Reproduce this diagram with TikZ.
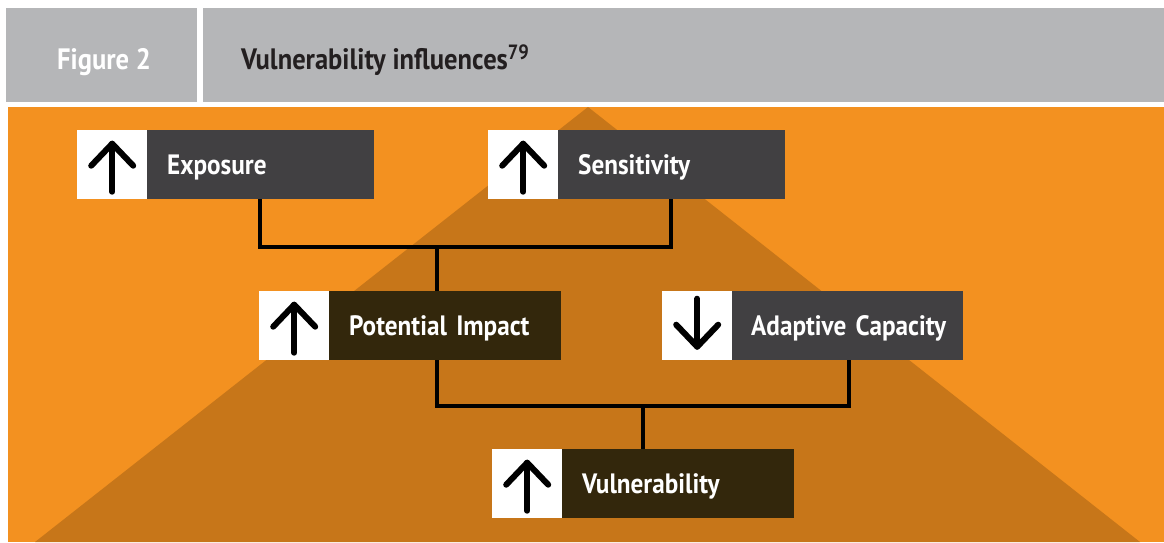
\documentclass[tikz,border=0pt]{standalone}
\usepackage{fontspec}
\setmainfont{PT Sans}[FakeStretch=0.9]
\usetikzlibrary{calc}
\definecolor{orng}{HTML}{F39120}
\definecolor{dorng}{HTML}{C77619}
\definecolor{hgrey}{HTML}{B5B6B8}
\definecolor{dgrey}{HTML}{414042}
\definecolor{dbrown}{HTML}{33270C}
\definecolor{ink}{HTML}{231F20}
\begin{document}
\begin{tikzpicture}[x=1pt,y=-1pt,
  iconbox/.style={fill=white, minimum width=70pt, minimum height=69pt, inner sep=0pt, anchor=north west},
  labelbox/.style={minimum height=69pt, inner xsep=20pt, inner ysep=0pt, anchor=north west,
     text=white, font=\bfseries\fontsize{28}{28}\selectfont, align=left,
     text height=20pt, text depth=0pt},
  arrowline/.style={line width=6pt, line cap=round, line join=round, black},
  conn/.style={line width=4pt, black, line join=miter},
  headtext/.style={anchor=base west, inner sep=0pt, font=\bfseries\fontsize{29.5}{29.5}\selectfont}
]
\useasboundingbox (0,0) rectangle (1164,542);
% header
\fill[hgrey] (6,8) rectangle (197,102);
\fill[hgrey] (203,8) rectangle (1164,102);
\node[headtext, text=white] (fig) at (57,69) {Figure 2};
\node[headtext, text=ink] (title) at (241,69) {Vulnerability influences\textsuperscript{79}};
% background
\fill[orng] (8,107) rectangle (1164,542);
\fill[dorng] (35,542) -- (588,107) -- (1140,542) -- cycle;
% boxes
\node[iconbox] (expI) at (77,130) {};
\node[labelbox, fill=dgrey, text width=187pt] (exp) at (147,130) {\mbox{Exposure}};
\node[iconbox] (senI) at (488,130) {};
\node[labelbox, fill=dgrey, text width=187pt] (sen) at (558,130) {\mbox{Sensitivity}};
\node[iconbox] (potI) at (259,291) {};
\node[labelbox, fill=dbrown, text width=192pt] (pot) at (329,291) {\mbox{Potential Impact}};
\node[iconbox] (adaI) at (662,291) {};
\node[labelbox, fill=dgrey, text width=193pt, inner xsep=19pt] (ada) at (732,291) {\mbox{Adaptive Capacity}};
\node[iconbox] (vulI) at (492,449) {};
\node[labelbox, fill=dbrown, text width=192pt] (vul) at (562,449) {\mbox{Vulnerability}};
% arrows
\foreach \n in {expI,senI,potI,vulI}{
  \draw[arrowline] ($(\n.center)+(0,27)$) -- ($(\n.center)+(0,-21)$);
  \draw[arrowline] ($(\n.center)+(-21,1)$) -- ($(\n.center)+(0,-21)$) -- ($(\n.center)+(21,1)$);
}
\draw[arrowline] ($(adaI.center)+(0,-27)$) -- ($(adaI.center)+(0,21)$);
\draw[arrowline] ($(adaI.center)+(-21,-1)$) -- ($(adaI.center)+(0,21)$) -- ($(adaI.center)+(21,-1)$);
% connectors
\coordinate (e1) at ($(exp.south west)+(113,0)$);
\coordinate (s1) at ($(sen.south west)+(113,0)$);
\coordinate (p1) at ($(pot.north west)+(108,0)$);
\coordinate (p2) at ($(pot.south west)+(108,0)$);
\coordinate (a2) at ($(ada.south west)+(117,0)$);
\coordinate (v1) at ($(vul.north west)+(81,0)$);
\coordinate (j1) at (437,247);
\coordinate (j2) at (643,406);
\draw[conn] (e1) |- (j1) -| (s1);
\draw[conn] (j1) -- (p1);
\draw[conn] (p2) |- (j2) -| (a2);
\draw[conn] (j2) -- (v1);
\end{tikzpicture}
\end{document}
